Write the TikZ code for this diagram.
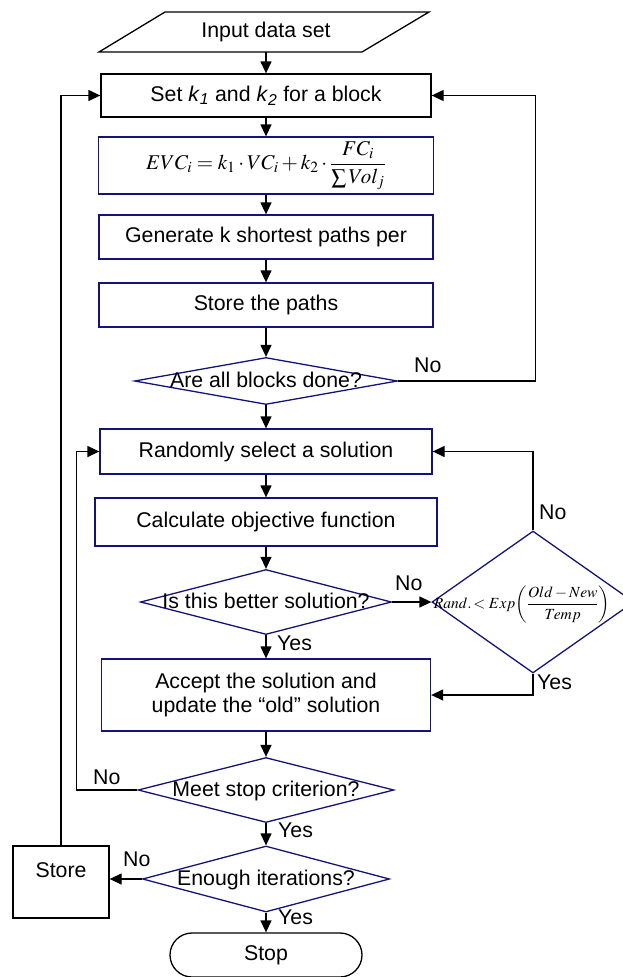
\documentclass[tikz,border=0pt]{standalone}
\usepackage{mathptmx}
\usepackage{fontspec}
\setmainfont{Liberation Sans}
\usetikzlibrary{shapes.geometric,arrows.meta}
\definecolor{flownavy}{RGB}{20,20,120}
\newcommand{\flowfont}{\fontsize{21.3}{24}\selectfont}
\newcommand{\dtxt}[1]{\makebox[0pt]{\raisebox{-0.3em}[0pt][0pt]{#1}}}

\begin{document}
\begin{tikzpicture}[x=1pt, y=-1pt,
    box/.style={rectangle, draw=flownavy, line width=1.3pt, inner sep=0pt,
                minimum height=44pt, align=center, font=\flowfont},
    decision/.style={diamond, draw=flownavy, line width=1.3pt, inner sep=0pt, font=\flowfont},
    term/.style={rectangle, draw, line width=1.3pt, rounded corners=22pt,
                 minimum width=192pt, minimum height=44pt, font=\flowfont},
    arr/.style={-{Triangle[length=12pt, width=11pt]}, line width=1.3pt},
    lab/.style={font=\flowfont, inner sep=0pt, anchor=west}
]
\useasboundingbox (0,0) rectangle (623,977);

\node[font=\flowfont, minimum height=40pt, inner sep=0pt] (input) at (266,32) {Input data set};
\draw[line width=1.3pt] (99,52) -- (165,12) -- (429,12) -- (362,52) -- cycle;

\node[box, draw=black, minimum width=330pt, minimum height=43pt] (setk)   at (266,95.5)
     {Set \textit{k}\textsubscript{\textit{1}} and \textit{k}\textsubscript{\textit{2}} for a block};
\node[box, minimum width=335pt, minimum height=57pt] (evc) at (266,165.5)
     {\fontsize{21}{24}\selectfont $\displaystyle EVC_i = k_1\cdot VC_i + k_2\cdot\frac{FC_i}{\sum Vol_j}$};
\node[box, minimum width=334pt] (kpaths) at (266,237) {Generate k shortest paths per};
\node[box, minimum width=334pt] (paths)  at (266,305) {Store the paths};
\node[decision, minimum width=263pt, minimum height=47pt] (alldone) at (266,381) {\dtxt{Are all blocks done?}};
\node[box, minimum width=332pt, minimum height=45pt] (randsel) at (266,451.5) {Randomly select a solution};
\node[box, minimum width=342pt, minimum height=48pt] (calc)    at (266,522) {Calculate objective function};
\node[decision, minimum width=251pt, minimum height=65pt] (better) at (266,602) {\dtxt{Is this better solution?}};
\node[decision, minimum width=202pt, minimum height=142pt] (rand) at (533,602)
     {\dtxt{\fontsize{15.5}{19}\selectfont $\displaystyle Rand.\! < Exp\!\left(\frac{Old-New}{Temp}\right)$\hspace{22pt}}};
\node[box, minimum width=329pt, minimum height=72pt] (accept) at (266,695)
     {Accept the solution and\\update the “old” solution};
\node[decision, minimum width=256pt, minimum height=65pt] (meet)   at (266,790) {\dtxt{Meet stop criterion?}};
\node[decision, minimum width=247pt, minimum height=66pt] (enough) at (266,879) {\dtxt{Enough iterations?}};
\node[box, draw=black, minimum width=96pt, minimum height=72pt] (store) at (61,882) {Store\\\mbox{}};
\node[term] (stop) at (266,955) {Stop};

\draw[arr] (input) -- (setk);
\draw[arr] (setk) -- (evc);
\draw[arr] (evc) -- (kpaths);
\draw[arr] (kpaths) -- (paths);
\draw[arr] (paths) -- (alldone);
\draw[arr] (alldone) -- (randsel);
\draw[arr] (alldone.east) -- ++(137.5,0) |- (setk.east);
\draw[arr] (randsel) -- (calc);
\draw[arr] (calc) -- (better);
\draw[arr] (better) -- (accept);
\draw[arr] (better) -- (rand);
\draw[arr] (rand.north) |- (randsel.east);
\draw[arr] (rand.south) |- (accept.east);
\draw[arr] (accept) -- (meet);
\draw[arr] (meet.west) -- ++(-61,0) |- (randsel.west);
\draw[arr] (meet) -- (enough);
\draw[arr] (enough.west) -- (enough.west -| store.east);
\draw[arr] (store.north) |- (setk.west);
\draw[arr] (enough) -- (stop);

\node[lab] (noall)    at (414,365) {No};
\node[lab] (nobetter) at (395,583) {No};
\node[lab] (norand)   at (539,512) {No};
\node[lab] (yesrand)  at (537,682) {Yes};
\node[lab] (yesbetter) at (277,643) {Yes};
\node[lab] (nomeet)   at (93,777) {No};
\node[lab] (yesmeet)  at (278,830) {Yes};
\node[lab] (noenough) at (123,859) {No};
\node[lab] (yesenough) at (278,917) {Yes};
\end{tikzpicture}
\end{document}
